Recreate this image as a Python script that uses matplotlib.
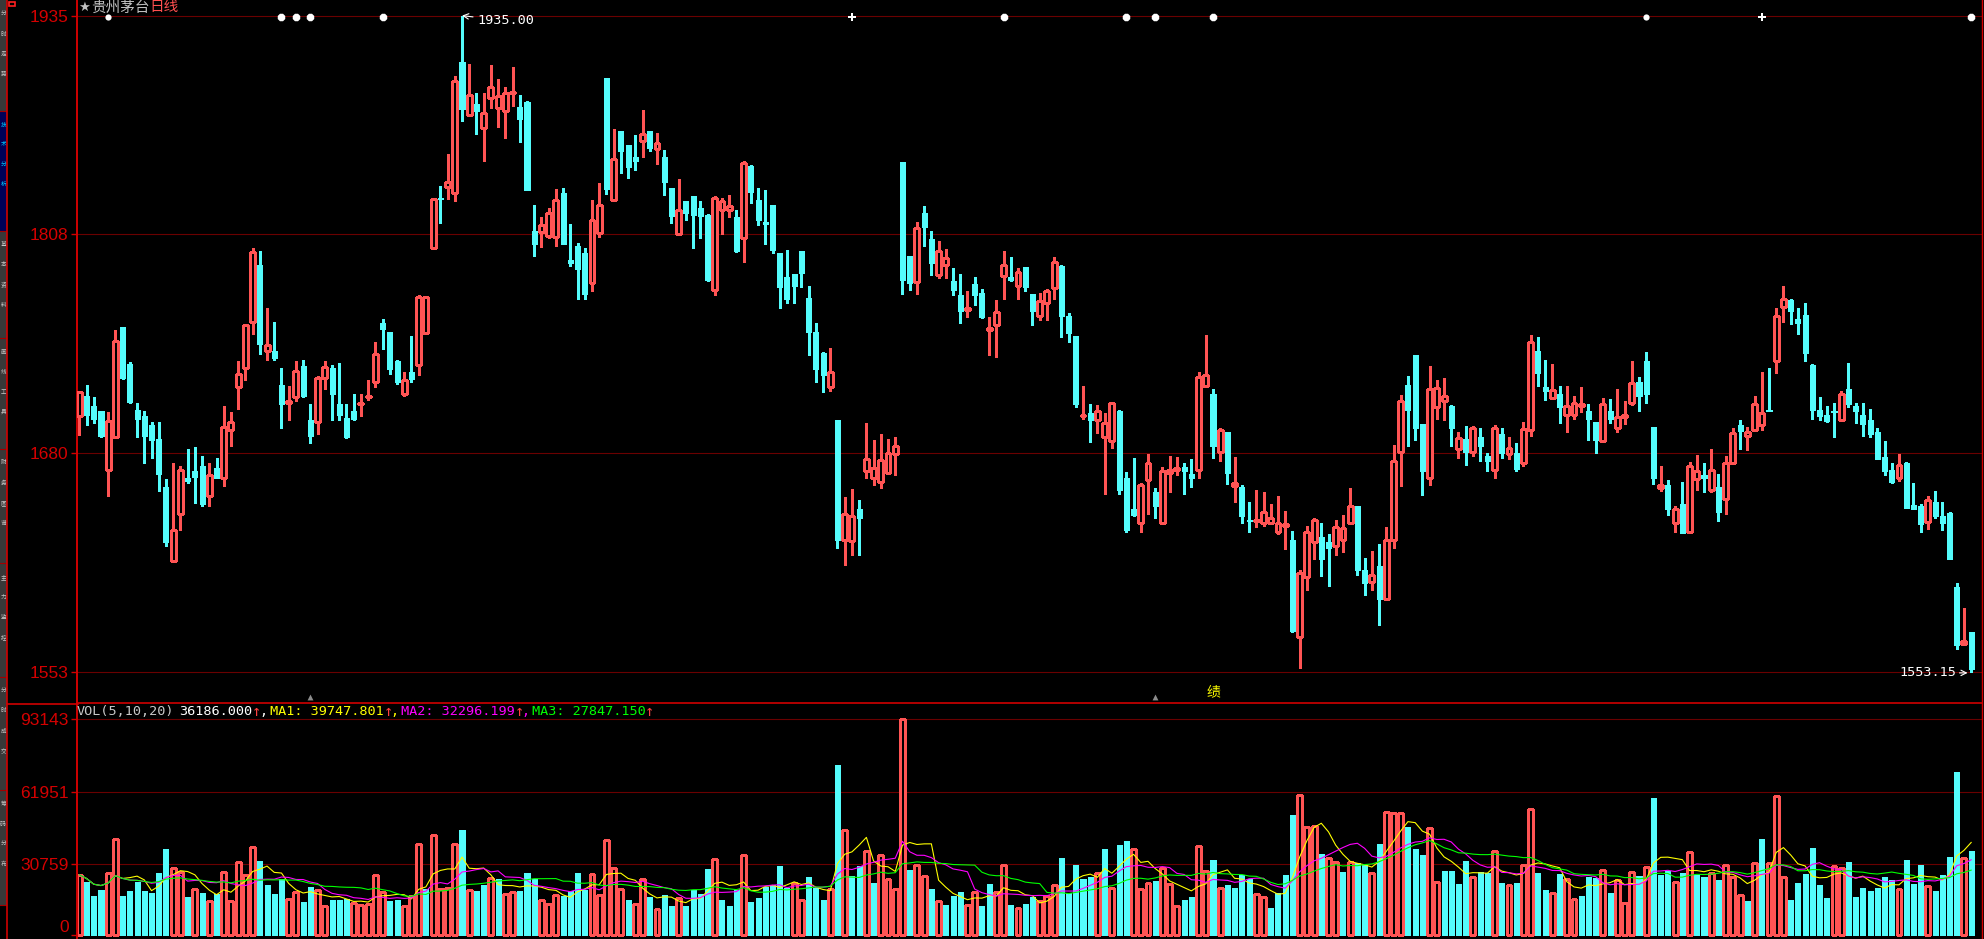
import numpy as np
import pandas as pd
import matplotlib
matplotlib.use("Agg")
import matplotlib.pyplot as plt
from matplotlib.patches import Rectangle

# ---------------- data ----------------
title_name = "贵州茅台"
title_period = "日线"
price_ticks = [1935.00, 1807.72, 1680.43, 1553.15]
price_tick_labels = ["1935", "1808", "1680", "1553"]
vol_ticks = [0, 30759, 61951, 93143]
vol_tick_labels = ["0", "30759", "61951", "93143"]
ma_windows = [5, 10, 20]

open_ = [
1702.3, 1713.9, 1708.2, 1705.1, 1670.9, 1689.8, 1754.2, 1732.6, 1705.9, 1702.3,
1697.1, 1689.0, 1661.0, 1617.9, 1645.2, 1666.2, 1670.3, 1673.2, 1655.8, 1672.1,
1666.2, 1694.2, 1718.9, 1730.0, 1756.7, 1790.0, 1739.9, 1740.1, 1720.4, 1709.5,
1713.1, 1731.3, 1699.9, 1698.6, 1724.0, 1730.3, 1709.3, 1701.2, 1705.1, 1709.3,
1713.1, 1721.7, 1756.2, 1751.0, 1733.9, 1714.7, 1727.9, 1731.8, 1750.3, 1799.6,
1828.6, 1835.6, 1831.7, 1908.0, 1877.4, 1883.6, 1869.9, 1887.3, 1881.0, 1879.7,
1889.9, 1881.8, 1884.9, 1809.9, 1808.9, 1807.1, 1806.0, 1832.0, 1793.1, 1801.1,
1796.9, 1779.3, 1808.4, 1898.7, 1827.6, 1868.1, 1859.8, 1853.0, 1862.3, 1868.1,
1857.7, 1853.0, 1834.8, 1807.9, 1827.1, 1830.2, 1822.9, 1819.3, 1775.7, 1821.9,
1821.9, 1818.0, 1805.5, 1847.6, 1827.8, 1815.1, 1825.0, 1796.9, 1783.2, 1784.8,
1798.3, 1770.8, 1751.0, 1738.8, 1718.9, 1699.9, 1629.8, 1629.7, 1648.3, 1670.1,
1666.4, 1663.6, 1668.8, 1679.9, 1849.9, 1795.4, 1780.1, 1820.3, 1805.3, 1784.0,
1789.7, 1780.9, 1772.6, 1763.8, 1779.1, 1773.9, 1752.1, 1754.9, 1783.5, 1783.2,
1778.0, 1788.9, 1773.1, 1760.6, 1767.6, 1776.7, 1789.4, 1760.4, 1748.7, 1702.3,
1704.1, 1699.7, 1689.8, 1687.4, 1705.1, 1666.2, 1648.3, 1639.7, 1664.9, 1658.1,
1639.7, 1669.3, 1670.6, 1672.7, 1668.3, 1670.6, 1719.9, 1714.9, 1681.0, 1692.9,
1661.2, 1661.0, 1641.5, 1641.0, 1640.0, 1640.0, 1634.5, 1638.4, 1630.1, 1573.5,
1608.3, 1628.8, 1631.9, 1629.1, 1626.7, 1629.8, 1639.7, 1650.1, 1612.7, 1605.7,
1615.0, 1595.6, 1629.8, 1681.2, 1720.4, 1737.8, 1697.6, 1665.9, 1707.4, 1710.8,
1708.2, 1683.0, 1689.0, 1681.2, 1690.0, 1679.2, 1670.6, 1691.6, 1680.2, 1680.7,
1674.7, 1693.9, 1740.1, 1719.1, 1712.4, 1714.9, 1702.8, 1703.0, 1707.9, 1705.1,
1698.9, 1687.4, 1705.1, 1695.2, 1701.5, 1709.5, 1722.0, 1734.2, 1695.5, 1660.2,
1662.3, 1639.7, 1651.1, 1634.5, 1665.7, 1668.0, 1658.9, 1661.0, 1654.0, 1675.0,
1697.1, 1690.3, 1693.9, 1697.1, 1705.4, 1734.2, 1765.3, 1769.7, 1758.3, 1760.9,
1731.8, 1705.9, 1702.8, 1705.1, 1699.7, 1718.1, 1708.2, 1702.8, 1699.9, 1692.9,
1678.1, 1670.6, 1665.9, 1675.0, 1650.6, 1650.1, 1640.5, 1652.4, 1643.8, 1645.9,
1602.8, 1569.7, 1576.6]

high = [
1716.3, 1720.4, 1713.4, 1705.1, 1704.6, 1752.3, 1754.2, 1733.7, 1709.8, 1705.1,
1698.6, 1698.9, 1665.7, 1675.0, 1673.2, 1683.0, 1684.3, 1679.2, 1675.0, 1677.9,
1708.2, 1704.6, 1734.2, 1755.7, 1799.8, 1798.3, 1765.0, 1757.0, 1730.3, 1719.9,
1734.2, 1734.9, 1709.3, 1725.3, 1734.2, 1731.8, 1733.1, 1709.3, 1714.9, 1714.9,
1723.3, 1745.3, 1758.6, 1751.0, 1734.9, 1727.9, 1748.7, 1772.6, 1771.6, 1828.9,
1835.9, 1854.6, 1900.0, 1935.0, 1907.0, 1890.1, 1890.1, 1906.2, 1898.2, 1893.5,
1905.2, 1888.8, 1885.4, 1825.0, 1817.7, 1823.2, 1834.3, 1834.9, 1813.8, 1802.9,
1799.8, 1827.8, 1837.7, 1898.7, 1869.1, 1868.1, 1859.8, 1865.7, 1880.3, 1868.1,
1866.8, 1856.9, 1834.8, 1840.0, 1827.1, 1830.2, 1827.3, 1819.8, 1829.9, 1828.9,
1830.4, 1822.1, 1850.2, 1848.1, 1834.8, 1833.5, 1825.0, 1796.9, 1798.8, 1784.8,
1798.3, 1777.8, 1756.2, 1739.6, 1741.7, 1699.9, 1655.3, 1660.0, 1653.5, 1698.1,
1688.2, 1691.9, 1689.0, 1690.0, 1849.9, 1795.4, 1815.1, 1824.0, 1809.9, 1804.0,
1799.3, 1788.4, 1784.8, 1774.9, 1783.2, 1776.2, 1759.6, 1769.7, 1798.3, 1794.6,
1788.4, 1788.9, 1773.1, 1773.9, 1775.9, 1794.6, 1790.0, 1762.2, 1748.7, 1719.6,
1709.3, 1708.8, 1704.1, 1709.8, 1705.9, 1669.8, 1677.9, 1663.3, 1680.2, 1660.2,
1672.7, 1679.2, 1678.4, 1675.0, 1677.3, 1727.9, 1749.5, 1718.1, 1695.0, 1692.9,
1678.4, 1662.3, 1652.4, 1659.2, 1658.1, 1650.9, 1655.5, 1647.0, 1635.3, 1612.7,
1638.4, 1643.1, 1640.0, 1633.7, 1641.5, 1644.4, 1660.5, 1650.1, 1619.7, 1623.9,
1628.0, 1637.9, 1685.4, 1714.4, 1725.3, 1737.8, 1697.6, 1731.3, 1723.3, 1724.3,
1708.8, 1692.9, 1696.5, 1696.5, 1695.2, 1680.7, 1697.1, 1695.2, 1690.0, 1686.7,
1698.9, 1749.5, 1748.2, 1734.9, 1732.6, 1719.6, 1719.6, 1713.9, 1719.1, 1709.3,
1698.9, 1712.6, 1712.1, 1718.1, 1711.1, 1734.2, 1725.1, 1739.6, 1696.0, 1673.2,
1664.9, 1650.1, 1663.8, 1675.5, 1679.7, 1675.0, 1683.0, 1668.5, 1679.2, 1695.2,
1699.9, 1696.0, 1713.9, 1727.9, 1730.3, 1765.0, 1777.8, 1770.2, 1765.0, 1767.9,
1732.6, 1713.4, 1708.2, 1709.8, 1716.8, 1733.1, 1709.8, 1709.8, 1706.4, 1695.0,
1687.7, 1674.7, 1680.2, 1675.5, 1663.3, 1650.9, 1655.8, 1658.7, 1652.4, 1646.5,
1605.2, 1590.4, 1576.6]

low = [
1691.1, 1696.8, 1698.4, 1689.8, 1655.5, 1689.8, 1723.5, 1709.8, 1689.8, 1674.7,
1677.6, 1658.4, 1626.5, 1617.9, 1635.8, 1663.1, 1651.4, 1649.6, 1649.6, 1666.0,
1661.2, 1684.6, 1706.4, 1723.0, 1749.7, 1738.0, 1734.7, 1734.7, 1695.0, 1699.7,
1710.8, 1713.1, 1686.2, 1691.9, 1717.8, 1699.7, 1699.7, 1689.5, 1699.7, 1702.0,
1711.3, 1718.9, 1740.9, 1726.4, 1720.7, 1713.7, 1721.7, 1725.9, 1750.0, 1799.5,
1814.4, 1828.6, 1827.3, 1874.0, 1877.4, 1866.2, 1850.2, 1881.3, 1870.4, 1863.7,
1882.6, 1861.6, 1833.5, 1795.4, 1800.6, 1805.8, 1801.1, 1802.2, 1789.4, 1770.5,
1770.0, 1774.6, 1806.0, 1831.5, 1827.5, 1843.2, 1840.8, 1845.2, 1853.0, 1856.4,
1848.9, 1830.7, 1814.6, 1807.9, 1815.9, 1799.6, 1805.8, 1780.6, 1772.8, 1807.9,
1817.7, 1797.8, 1792.0, 1826.3, 1813.0, 1802.4, 1797.2, 1764.8, 1767.6, 1767.6,
1777.0, 1737.8, 1722.2, 1716.0, 1717.0, 1625.7, 1615.8, 1621.3, 1621.3, 1666.4,
1661.8, 1660.2, 1668.8, 1667.7, 1773.3, 1775.7, 1773.3, 1800.8, 1784.0, 1782.7,
1782.7, 1772.8, 1756.5, 1759.6, 1766.6, 1759.4, 1737.5, 1736.2, 1770.0, 1780.4,
1770.5, 1774.6, 1754.9, 1757.8, 1757.8, 1770.5, 1747.9, 1745.1, 1707.7, 1700.7,
1686.9, 1692.1, 1656.6, 1683.8, 1656.6, 1634.5, 1644.1, 1634.5, 1645.2, 1642.6,
1639.7, 1657.9, 1667.7, 1657.1, 1660.7, 1666.4, 1719.9, 1677.6, 1675.8, 1662.5,
1651.9, 1639.7, 1634.5, 1637.4, 1638.2, 1639.2, 1633.7, 1624.7, 1576.7, 1555.6,
1601.0, 1619.2, 1609.1, 1603.4, 1621.5, 1623.1, 1639.7, 1609.6, 1598.2, 1601.0,
1580.5, 1595.1, 1625.7, 1661.2, 1684.6, 1688.0, 1656.1, 1662.0, 1700.2, 1699.7,
1684.6, 1677.6, 1673.4, 1678.9, 1676.3, 1670.1, 1666.4, 1677.6, 1677.3, 1670.3,
1672.9, 1690.3, 1719.9, 1711.3, 1711.8, 1698.4, 1692.6, 1700.2, 1704.3, 1688.0,
1680.4, 1687.4, 1698.4, 1692.6, 1697.8, 1708.5, 1704.8, 1709.5, 1662.5, 1658.7,
1644.9, 1634.5, 1634.0, 1634.5, 1658.9, 1657.9, 1657.9, 1641.0, 1645.2, 1675.0,
1683.0, 1682.5, 1693.9, 1694.2, 1704.8, 1726.9, 1756.7, 1755.4, 1750.0, 1733.9,
1700.7, 1699.7, 1698.6, 1689.8, 1699.7, 1707.7, 1698.1, 1690.8, 1689.8, 1677.1,
1668.0, 1663.1, 1664.6, 1648.5, 1648.0, 1635.0, 1636.3, 1642.6, 1635.8, 1618.9,
1566.5, 1569.4, 1553.15]

close = [
1716.3, 1703.0, 1700.7, 1690.6, 1699.4, 1745.6, 1724.0, 1710.5, 1700.7, 1690.3,
1688.5, 1668.3, 1628.8, 1636.1, 1670.9, 1664.6, 1666.7, 1650.9, 1668.0, 1666.2,
1695.8, 1698.9, 1726.6, 1755.2, 1797.7, 1743.8, 1743.5, 1735.7, 1709.0, 1711.1,
1728.5, 1713.7, 1690.8, 1724.3, 1730.8, 1715.2, 1702.5, 1689.8, 1700.7, 1709.8,
1713.9, 1738.3, 1752.6, 1729.8, 1722.0, 1723.3, 1723.5, 1771.5, 1771.3, 1828.4,
1828.4, 1838.2, 1897.1, 1880.5, 1888.8, 1879.7, 1878.4, 1893.5, 1888.3, 1890.1,
1890.4, 1874.6, 1833.8, 1802.4, 1813.3, 1820.3, 1827.8, 1802.4, 1791.0, 1787.6,
1773.3, 1816.2, 1825.0, 1834.3, 1851.7, 1856.1, 1846.8, 1850.7, 1866.2, 1858.2,
1861.1, 1838.0, 1818.2, 1822.1, 1820.1, 1819.3, 1818.2, 1781.4, 1828.9, 1827.3,
1824.5, 1798.0, 1849.4, 1832.3, 1815.9, 1813.6, 1798.5, 1777.0, 1770.0, 1778.0,
1785.5, 1750.8, 1729.8, 1725.9, 1727.9, 1629.8, 1645.4, 1644.1, 1642.6, 1677.3,
1672.1, 1676.8, 1680.7, 1684.9, 1781.1, 1779.3, 1811.5, 1811.8, 1791.0, 1798.3,
1794.1, 1775.7, 1763.5, 1765.0, 1772.8, 1759.6, 1753.1, 1762.7, 1790.0, 1781.1,
1786.1, 1777.0, 1763.0, 1769.2, 1774.9, 1791.8, 1760.1, 1750.3, 1709.0, 1702.8,
1699.7, 1705.1, 1698.1, 1709.8, 1659.4, 1635.8, 1644.9, 1662.3, 1675.0, 1649.6,
1670.3, 1670.9, 1672.1, 1670.1, 1666.4, 1724.8, 1725.9, 1684.6, 1694.2, 1668.8,
1663.3, 1643.8, 1641.0, 1641.8, 1646.5, 1642.8, 1639.7, 1639.2, 1576.9, 1610.9,
1634.8, 1641.8, 1618.9, 1625.7, 1637.6, 1636.8, 1650.1, 1612.5, 1604.9, 1609.9,
1595.6, 1630.1, 1676.0, 1711.1, 1705.4, 1695.0, 1670.1, 1718.1, 1718.6, 1713.9,
1695.0, 1689.5, 1681.0, 1695.2, 1684.6, 1676.0, 1695.2, 1680.4, 1683.5, 1671.1,
1694.7, 1745.3, 1726.9, 1716.5, 1717.3, 1707.7, 1708.2, 1709.8, 1709.0, 1700.7,
1688.5, 1709.3, 1700.7, 1701.7, 1702.8, 1721.4, 1713.7, 1714.7, 1666.4, 1662.3,
1648.0, 1648.3, 1634.0, 1673.2, 1670.3, 1666.4, 1670.9, 1646.2, 1675.0, 1692.4,
1693.2, 1692.9, 1709.0, 1703.8, 1704.8, 1760.4, 1770.2, 1763.5, 1756.0, 1738.6,
1705.4, 1702.0, 1699.4, 1704.3, 1715.2, 1709.0, 1704.8, 1697.3, 1691.6, 1677.1,
1670.1, 1663.8, 1673.7, 1648.5, 1648.0, 1639.2, 1653.5, 1643.8, 1640.0, 1618.9,
1568.9, 1571.4, 1555.1]

volume = [
26000, 22800, 17000, 19600, 26900, 41600, 17000, 18800, 22800, 18800,
18300, 26900, 37300, 28900, 27400, 16500, 19900, 18300, 14700, 17600,
27100, 14700, 31500, 25700, 38100, 32100, 21400, 17900, 24300, 15600,
18500, 14400, 20800, 19300, 12400, 15300, 15300, 15600, 13900, 13000,
13300, 26000, 18500, 14700, 15300, 12400, 17000, 39300, 19900, 43300,
19900, 20200, 39300, 45500, 19300, 18800, 21700, 24500, 24300, 17600,
18500, 18800, 26900, 24000, 15000, 13300, 17300, 17000, 18800, 26900,
19300, 26300, 17300, 41000, 28900, 19900, 15000, 13300, 24300, 16200,
11300, 17300, 12700, 15900, 12700, 19600, 17900, 28600, 32800, 15200,
12600, 19300, 34500, 14300, 16000, 20800, 21500, 29900, 20100, 22500,
15000, 25100, 20500, 15200, 19800, 73600, 45300, 25600, 29900, 36400,
22500, 34500, 24100, 19800, 93143, 28200, 30200, 25400, 19900, 14700,
13000, 16900, 18600, 13000, 18500, 12600, 22100, 18500, 30300, 13000,
11700, 13400, 16500, 14600, 16900, 21700, 33400, 18300, 30300, 24300,
25100, 26600, 37300, 20100, 39000, 40700, 37100, 19800, 22500, 23400,
28900, 22100, 12600, 15200, 16500, 38600, 27600, 32500, 20200, 21700,
20400, 26000, 24100, 17800, 16300, 11700, 18100, 26000, 52000, 60500,
46800, 46900, 35100, 33400, 31600, 27300, 31600, 30900, 30200, 26700,
39400, 53100, 52700, 52700, 46800, 37300, 34700, 46200, 22800, 27700,
27700, 22100, 32100, 25000, 27300, 26900, 36200, 22500, 21500, 22500,
30200, 54400, 26900, 19500, 18100, 26400, 24300, 15500, 16900, 25100,
24800, 28000, 18300, 23700, 13900, 27300, 25600, 29500, 59300, 26000,
27700, 22800, 26900, 35800, 26000, 25100, 26900, 23800, 30200, 25100,
17200, 14700, 31000, 41600, 31000, 60100, 25000, 15200, 22500, 26400,
37700, 21700, 16000, 29700, 28900, 31600, 16500, 20400, 19100, 20400,
25100, 23800, 19900, 32500, 22100, 30300, 21100, 19100, 26000, 33800,
70600, 33200, 36186]

event_idx = [4, 28, 30, 32, 42, 107, 128, 145, 149, 157, 217, 233, 262]
event_kind = ['o', 's', 's', 's', 's', '+', 's', 's', 's', 's', 'o', '+', 's']
flag_idx = [32, 149]
report_idx = [157]
report_text = "绩"

vol_header = [("VOL(5,10,20)", '#c8c8c8', 77), ("36186.000", '#ffffff', 179),
              ("↑", '#ff4040', 252), (",", '#ffffff', 259),
              ("MA1: 39747.801", '#ffff00', 270), ("↑", '#ff4040', 384), (",", '#ffff00', 390),
              ("MA2: 32296.199", '#ff00ff', 401), ("↑", '#ff4040', 515), (",", '#ff00ff', 521),
              ("MA3: 27847.150", '#00ff00', 532), ("↑", '#ff4040', 645)]

# ---------------- style ----------------
W, H = 1984, 939
DPI = 100
RED = '#ff5454'
CYAN = '#54fcfc'
GRID = '#6a0000'
AXRED = '#d00000'
CJK = ['Noto Sans CJK SC', 'DejaVu Sans']
MONO = 'DejaVu Sans Mono'
NUMF = 'Liberation Sans'

o = np.array(open_); hi = np.array(high); lo = np.array(low); cl = np.array(close)
vol = np.array(volume, dtype=float)
n = len(o)
k = np.arange(n)

fig = plt.figure(figsize=(W / DPI, H / DPI), dpi=DPI, facecolor='black')

# ---- left tab strip ----
sb = fig.add_axes([0, 0, 7 / W, 1])
sb.set_xlim(0, 7); sb.set_ylim(H, 0); sb.axis('off')
tabs = [(0, 111, '#383838', '#c8c8c8', "分时走势"), (111, 231, '#000058', '#00c8ff', "技术分析"),
        (231, 338, '#383838', '#c8c8c8', "基本资料"), (338, 449, '#383838', '#c8c8c8', "画线工具"),
        (449, 563, '#383838', '#c8c8c8', "财务图谱"), (563, 677, '#383838', '#c8c8c8', "主力监控"),
        (677, 790, '#383838', '#c8c8c8', "分时成交"), (790, 905, '#383838', '#c8c8c8', "筹码分布")]
for y0, y1, bg, fg, txt in tabs:
    sb.add_patch(Rectangle((0, y0), 7, y1 - y0, facecolor=bg, edgecolor='none'))
    sb.plot([0, 7], [y1, y1], color='#a00000', lw=0.8)
    for j, ch in enumerate(txt[:4]):
        sb.text(3.3, y0 + 14 + j * 20, ch, color=fg, fontsize=4.2, family=CJK,
                ha='center', va='center')

# ---- price panel ----
ax = fig.add_axes([77 / W, 1 - 703 / H, 1905 / W, 703 / H])
ax.set_facecolor('black')
ax.set_xlim(-0.32, 263.5)
ax.set_ylim(1535.3, 1944.07)
for t in price_ticks:
    ax.axhline(t, color=GRID, lw=0.8, zorder=0.5)

up = cl >= o
body_lo = np.minimum(o, cl)
body_h = np.maximum(np.abs(cl - o), 0.3)
ax.vlines(k, lo, hi, colors=np.where(up, RED, CYAN), lw=0.8, zorder=2, antialiased=False)
ax.bar(k[up], body_h[up], bottom=body_lo[up], width=0.68, facecolor='black',
       edgecolor=RED, lw=0.75, zorder=3, antialiased=False)
ax.bar(k[~up], body_h[~up], bottom=body_lo[~up], width=0.7, facecolor=CYAN,
       edgecolor=CYAN, lw=0.5, zorder=3, antialiased=False)

ax.set_yticks(price_ticks)
ax.set_yticklabels(price_tick_labels)
ax.tick_params(axis='y', colors=AXRED, labelcolor='#d40000', length=4, width=1,
               pad=2, labelsize=12.5)
ax.tick_params(axis='x', bottom=False, labelbottom=False)
for lb in ax.get_yticklabels():
    lb.set_fontfamily(NUMF)
ax.spines['top'].set_visible(False)
ax.spines['left'].set_color(AXRED); ax.spines['left'].set_linewidth(1.4)
ax.spines['bottom'].set_color(AXRED); ax.spines['bottom'].set_linewidth(1.2)
ax.spines['right'].set_color(AXRED); ax.spines['right'].set_linewidth(1.0)

# event markers along the top
for ki, kind in zip(event_idx, event_kind):
    if kind == '+':
        ax.scatter(ki, 1934.1, marker='P', s=34, color='white', lw=0, zorder=6, clip_on=False)
    elif kind == 'o':
        ax.scatter(ki, 1934.1, marker='o', s=20, color='white', lw=0, zorder=6, clip_on=False)
    else:
        ax.scatter(ki, 1934.1, marker='8', s=34, color='white', lw=0, zorder=6, clip_on=False)
ax.scatter(flag_idx, [1538.8] * len(flag_idx), marker='^', s=18, color='#8c8c8c', lw=0, zorder=6)
for ki in report_idx:
    ax.text(ki, 1541.5, report_text, color='#ffff00', fontsize=10, family=CJK,
            ha='center', va='center', zorder=6)

# extreme labels
hk = int(np.argmax(hi)); lk = int(np.argmin(lo))
ax.annotate(f"{hi[hk]:.2f}", xy=(hk, hi[hk]), xytext=(hk + 2.1, 1932.0), color='white',
            fontsize=9.7, family=MONO, ha='left', va='center', zorder=7,
            arrowprops=dict(arrowstyle='->', color='white', lw=0.8, shrinkA=1, shrinkB=0))
ax.annotate(f"{lo[lk]:.2f}", xy=(lk - 0.5, 1552.8), xytext=(lk - 2.0, 1552.8), color='white',
            fontsize=9.7, family=MONO, ha='right', va='center', zorder=7,
            arrowprops=dict(arrowstyle='->', color='white', lw=0.8, shrinkA=0, shrinkB=0))

# ---- volume panel ----
axv = fig.add_axes([77 / W, 0, 1905 / W, 235 / H])
axv.set_facecolor('black')
axv.set_xlim(-0.32, 263.5)
axv.set_ylim(-1727, 99750)
for t in vol_ticks[1:]:
    axv.axhline(t, color=GRID, lw=0.8, zorder=0.5)
vup = np.r_[True, cl[1:] >= cl[:-1]]
axv.bar(k[vup], vol[vup], width=0.68, facecolor='black', edgecolor=RED, lw=0.75,
        zorder=2, antialiased=False)
axv.bar(k[~vup], vol[~vup], width=0.7, facecolor=CYAN, edgecolor=CYAN, lw=0.5,
        zorder=2, antialiased=False)
vs = pd.Series(vol)
for w, c in zip(ma_windows, ['#ffff00', '#ff00ff', '#00ff00']):
    axv.plot(k, vs.rolling(w, min_periods=1).mean(), color=c, lw=0.8, zorder=4)
axv.set_yticks(vol_ticks)
axv.set_yticklabels(vol_tick_labels)
axv.tick_params(axis='y', colors=AXRED, labelcolor='#d40000', length=4, width=1,
                pad=2, labelsize=12.5)
axv.tick_params(axis='x', bottom=False, labelbottom=False)
vlabels = axv.get_yticklabels()
for lb in vlabels:
    lb.set_fontfamily(NUMF)
vlabels[0].set_verticalalignment('bottom')
axv.spines['bottom'].set_visible(False)
axv.spines['top'].set_visible(False)
axv.spines['left'].set_color(AXRED); axv.spines['left'].set_linewidth(1.4)
axv.spines['right'].set_color(AXRED); axv.spines['right'].set_linewidth(1.0)

# ---- decorations & headers ----
deco = fig.add_axes([0, 0, 1, 1], zorder=10)
deco.set_xlim(0, W); deco.set_ylim(H, 0); deco.axis('off')
deco.patch.set_alpha(0)
deco.plot([7, 7], [0, H], color=AXRED, lw=1.2)
deco.plot([7, 78], [703.5, 703.5], color=AXRED, lw=1.2)
deco.add_patch(Rectangle((8.5, 1.5), 6, 4.5, facecolor='none', edgecolor='#ff2020', lw=1.2))

fig.text(78 / W, 1 - 7.5 / H, "★", color='#c0c0c0', fontsize=9.5, family='DejaVu Sans',
         va='center', ha='left', zorder=12)
fig.text(91 / W, 1 - 7.5 / H, title_name, color='#c0c0c0', fontsize=10.5, family=CJK,
         va='center', ha='left', zorder=12)
fig.text(149 / W, 1 - 7.5 / H, title_period, color='#ff5050', fontsize=10.5, family=CJK,
         va='center', ha='left', zorder=12)
for txt, col, xp in vol_header:
    fs = 11 if txt == "↑" else 9.7
    fig.text(xp / W, 1 - 711.5 / H, txt, color=col, fontsize=fs, family=[MONO, 'DejaVu Sans'],
             va='center', ha='left', zorder=12)

fig.savefig("out.png", dpi=DPI, facecolor='black')
